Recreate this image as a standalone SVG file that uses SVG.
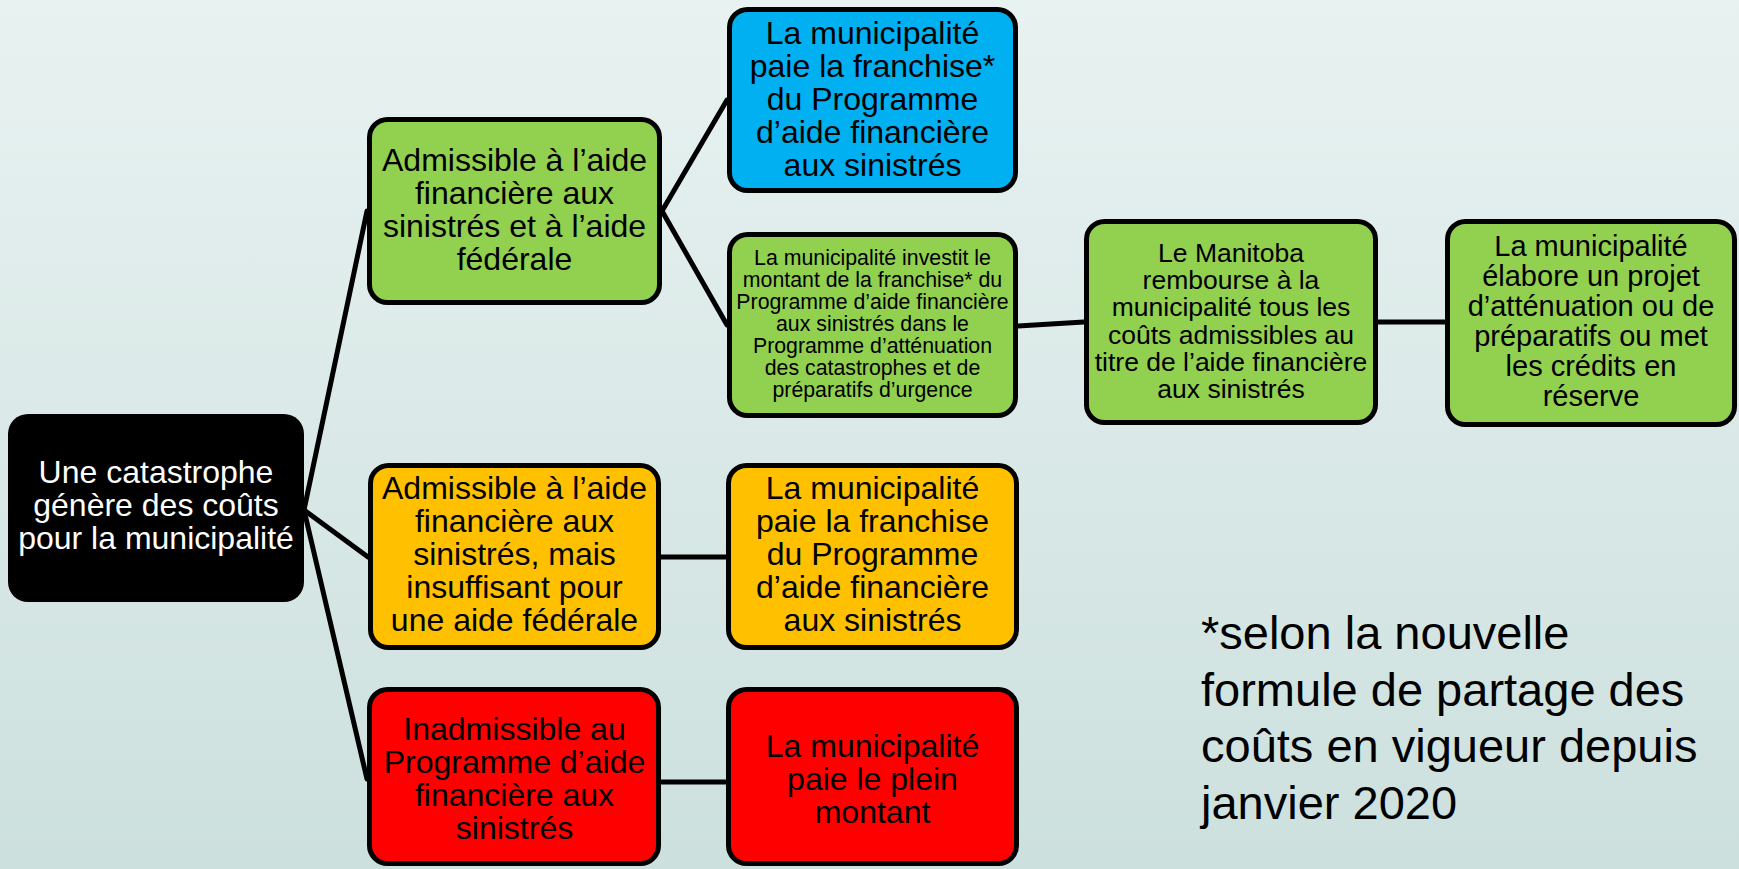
<svg xmlns="http://www.w3.org/2000/svg" width="1739" height="869" viewBox="0 0 1739 869">
  <defs>
    <linearGradient id="bg" x1="0" y1="0" x2="0" y2="1">
      <stop offset="0" stop-color="#e8f2f1"/>
      <stop offset="1" stop-color="#cce0de"/>
    </linearGradient>
    <style>
      .box { stroke: #000; stroke-width: 5; }
      .green { fill: #92d050; }
      .blue { fill: #00b0f0; }
      .orange { fill: #ffc000; }
      .red { fill: #ff0000; }
      .root { fill: #000; }
      .conn { stroke: #000; stroke-width: 5; fill: none; stroke-linecap: round; }
      text { font-family: "Liberation Sans", Arial, sans-serif; text-anchor: middle; fill: #000; }
      .t32 { font-size: 32px; }
      .t21 { font-size: 21.3px; }
      .t26 { font-size: 26.5px; }
      .t29 { font-size: 29px; }
      .white { fill: #fff; }
      .note { font-size: 47px; text-anchor: start; }
    </style>
  </defs>
  <rect x="0" y="0" width="1739" height="869" fill="url(#bg)"/>

  <g id="connectors">
    <line class="conn" x1="304" y1="510" x2="367" y2="211"/>
    <line class="conn" x1="304" y1="510" x2="368" y2="557"/>
    <line class="conn" x1="304" y1="510" x2="367" y2="779"/>
    <line class="conn" x1="662" y1="211" x2="727" y2="100"/>
    <line class="conn" x1="662" y1="211" x2="727" y2="325"/>
    <line class="conn" x1="1018" y1="326" x2="1084" y2="322"/>
    <line class="conn" x1="1378" y1="322" x2="1445" y2="322"/>
    <line class="conn" x1="661" y1="557" x2="726" y2="557"/>
    <line class="conn" x1="661" y1="782" x2="726" y2="782"/>
  </g>

  <g id="root">
    <rect class="root" x="8" y="414" width="296" height="188" rx="20"/>
    <text class="t32 white" x="156" y="483">Une catastrophe</text>
    <text class="t32 white" x="156" y="516">génère des coûts</text>
    <text class="t32 white" x="156" y="549">pour la municipalité</text>
  </g>

  <g id="eligible-full">
    <rect class="box green" x="369.5" y="119.5" width="290" height="183" rx="18"/>
    <text class="t32" x="514.5" y="171">Admissible à l’aide</text>
    <text class="t32" x="514.5" y="204">financière aux</text>
    <text class="t32" x="514.5" y="237">sinistrés et à l’aide</text>
    <text class="t32" x="514.5" y="270">fédérale</text>
  </g>

  <g id="pays-deductible-blue">
    <rect class="box blue" x="729.5" y="9.5" width="286" height="181" rx="18"/>
    <text class="t32" x="872.5" y="44">La municipalité</text>
    <text class="t32" x="872.5" y="77">paie la franchise*</text>
    <text class="t32" x="872.5" y="110">du Programme</text>
    <text class="t32" x="872.5" y="143">d’aide financière</text>
    <text class="t32" x="872.5" y="176">aux sinistrés</text>
  </g>

  <g id="invests-deductible">
    <rect class="box green" x="729.5" y="234.5" width="286" height="181" rx="18"/>
    <text class="t21" x="872.5" y="265">La municipalité investit le</text>
    <text class="t21" x="872.5" y="287">montant de la franchise* du</text>
    <text class="t21" x="872.5" y="309">Programme d’aide financière</text>
    <text class="t21" x="872.5" y="331">aux sinistrés dans le</text>
    <text class="t21" x="872.5" y="353">Programme d’atténuation</text>
    <text class="t21" x="872.5" y="375">des catastrophes et de</text>
    <text class="t21" x="872.5" y="397">préparatifs d’urgence</text>
  </g>

  <g id="manitoba-reimburses">
    <rect class="box green" x="1086.5" y="221.5" width="289" height="201" rx="18"/>
    <text class="t26" x="1231" y="262">Le Manitoba</text>
    <text class="t26" x="1231" y="289.2">rembourse à la</text>
    <text class="t26" x="1231" y="316.4">municipalité tous les</text>
    <text class="t26" x="1231" y="343.6">coûts admissibles au</text>
    <text class="t26" x="1231" y="370.8">titre de l’aide financière</text>
    <text class="t26" x="1231" y="398">aux sinistrés</text>
  </g>

  <g id="mitigation-project">
    <rect class="box green" x="1447.5" y="221.5" width="287" height="203" rx="18"/>
    <text class="t29" x="1591" y="256">La municipalité</text>
    <text class="t29" x="1591" y="286">élabore un projet</text>
    <text class="t29" x="1591" y="316">d’atténuation ou de</text>
    <text class="t29" x="1591" y="346">préparatifs ou met</text>
    <text class="t29" x="1591" y="376">les crédits en</text>
    <text class="t29" x="1591" y="406">réserve</text>
  </g>

  <g id="eligible-insufficient">
    <rect class="box orange" x="370.5" y="465.5" width="288" height="182" rx="18"/>
    <text class="t32" x="514.5" y="499">Admissible à l’aide</text>
    <text class="t32" x="514.5" y="532">financière aux</text>
    <text class="t32" x="514.5" y="565">sinistrés, mais</text>
    <text class="t32" x="514.5" y="598">insuffisant pour</text>
    <text class="t32" x="514.5" y="631">une aide fédérale</text>
  </g>

  <g id="pays-deductible-orange">
    <rect class="box orange" x="728.5" y="465.5" width="288" height="182" rx="18"/>
    <text class="t32" x="872.5" y="499">La municipalité</text>
    <text class="t32" x="872.5" y="532">paie la franchise</text>
    <text class="t32" x="872.5" y="565">du Programme</text>
    <text class="t32" x="872.5" y="598">d’aide financière</text>
    <text class="t32" x="872.5" y="631">aux sinistrés</text>
  </g>

  <g id="ineligible">
    <rect class="box red" x="369.5" y="689.5" width="289" height="174" rx="18"/>
    <text class="t32" x="514.5" y="740">Inadmissible au</text>
    <text class="t32" x="514.5" y="773">Programme d’aide</text>
    <text class="t32" x="514.5" y="806">financière aux</text>
    <text class="t32" x="514.5" y="839">sinistrés</text>
  </g>

  <g id="pays-full">
    <rect class="box red" x="728.5" y="689.5" width="288" height="174" rx="18"/>
    <text class="t32" x="872.5" y="757">La municipalité</text>
    <text class="t32" x="872.5" y="790">paie le plein</text>
    <text class="t32" x="872.5" y="823">montant</text>
  </g>

  <g id="footnote">
    <text class="note" x="1201" y="649">*selon la nouvelle</text>
    <text class="note" x="1201" y="705.5">formule de partage des</text>
    <text class="note" x="1201" y="762">coûts en vigueur depuis</text>
    <text class="note" x="1201" y="818.5">janvier 2020</text>
  </g>
</svg>
